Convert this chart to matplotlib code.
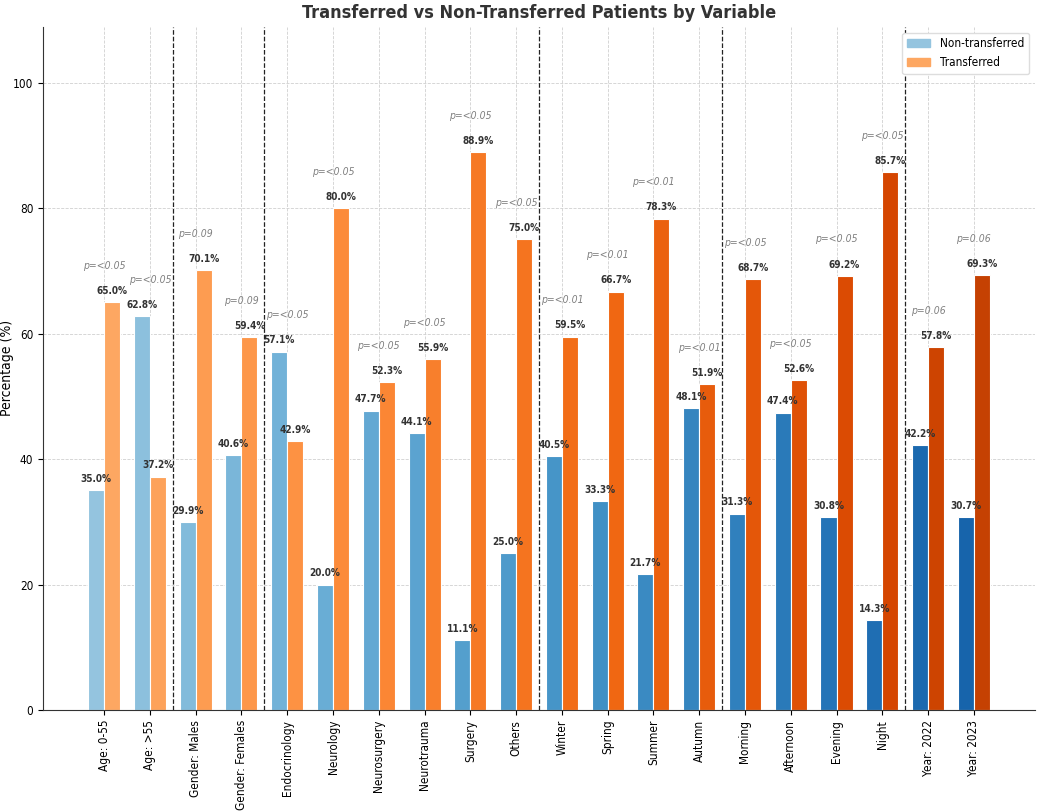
import numpy as np
import matplotlib
matplotlib.use("Agg")
import matplotlib.pyplot as plt
from matplotlib.patches import Patch

plt.rcParams['font.family'] = ['DejaVu Sans']
plt.rcParams['font.stretch'] = 'condensed'

# Data
categories = ['Age: 0-55', 'Age: >55', 'Gender: Males', 'Gender: Females',
              'Endocrinology', 'Neurology', 'Neurosurgery', 'Neurotrauma',
              'Surgery', 'Others', 'Winter', 'Spring', 'Summer', 'Autumn',
              'Morning', 'Afternoon', 'Evening', 'Night', 'Year: 2022', 'Year: 2023']
non_transferred = [35.0, 62.8, 29.9, 40.6, 57.1, 20.0, 47.7, 44.1, 11.1, 25.0,
                   40.5, 33.3, 21.7, 48.1, 31.3, 47.4, 30.8, 14.3, 42.2, 30.7]
transferred = [65.0, 37.2, 70.1, 59.4, 42.9, 80.0, 52.3, 55.9, 88.9, 75.0,
               59.5, 66.7, 78.3, 51.9, 68.7, 52.6, 69.2, 85.7, 57.8, 69.3]
p_values = ['p=<0.05', 'p=<0.05', 'p=0.09', 'p=0.09',
            'p=<0.05', 'p=<0.05', 'p=<0.05', 'p=<0.05', 'p=<0.05', 'p=<0.05',
            'p=<0.01', 'p=<0.01', 'p=<0.01', 'p=<0.01',
            'p=<0.05', 'p=<0.05', 'p=<0.05', 'p=<0.05',
            'p=0.06', 'p=0.06']
group_breaks = [1.5, 3.5, 9.5, 13.5, 17.5]

n = len(categories)
x = np.arange(n)
width = 0.35
blues = plt.cm.Blues(np.linspace(0.4, 0.8, n))
oranges = plt.cm.Oranges(np.linspace(0.4, 0.8, n))

fig, ax = plt.subplots(figsize=(10.37, 8.11), dpi=100)
fig.subplots_adjust(left=0.0415, right=0.998, top=0.967, bottom=0.1245)

ax.bar(x - width / 2, non_transferred, width, color=blues, edgecolor='white', linewidth=0.8, zorder=2)
ax.bar(x + width / 2, transferred, width, color=oranges, edgecolor='white', linewidth=0.8, zorder=2)

for i in range(n):
    ax.text(x[i] - width / 2, non_transferred[i] + 1, f"{non_transferred[i]:.1f}%",
            ha='center', va='bottom', fontsize=7.2, fontweight='bold', color='#333333')
    ax.text(x[i] + width / 2, transferred[i] + 1, f"{transferred[i]:.1f}%",
            ha='center', va='bottom', fontsize=7.2, fontweight='bold', color='#333333')
    top = max(non_transferred[i], transferred[i])
    ax.text(x[i], top + 5, p_values[i], ha='center', va='bottom',
            fontsize=7.5, style='italic', color='gray')

for b in group_breaks:
    ax.axvline(b, color='#222222', linestyle='--', linewidth=0.9, zorder=3)

ax.set_ylim(0, max(transferred) + 20)
ax.set_xticks(x)
ax.set_xticklabels(categories, rotation=90, fontsize=8.5)
ax.tick_params(axis='y', labelsize=8.5)
ax.set_ylabel('Percentage (%)', fontsize=10)
ax.yaxis.set_label_coords(-0.029, 0.5)
ax.set_title('Transferred vs Non-Transferred Patients by Variable', fontsize=13,
             fontweight='bold', color='#333333')
ax.grid(True, linestyle='--', linewidth=0.6, color='#d0d0d0', zorder=0)
ax.set_axisbelow(True)
for s in ['top', 'right']:
    ax.spines[s].set_visible(False)
ax.spines['left'].set_color('#333333')
ax.spines['bottom'].set_color('#333333')

handles = [Patch(color=blues[0], label='Non-transferred'),
           Patch(color=oranges[0], label='Transferred')]
ax.legend(handles=handles, loc='upper right', fontsize=8.5, framealpha=1, edgecolor='#dddddd')

plt.savefig('out.png', dpi=100)
